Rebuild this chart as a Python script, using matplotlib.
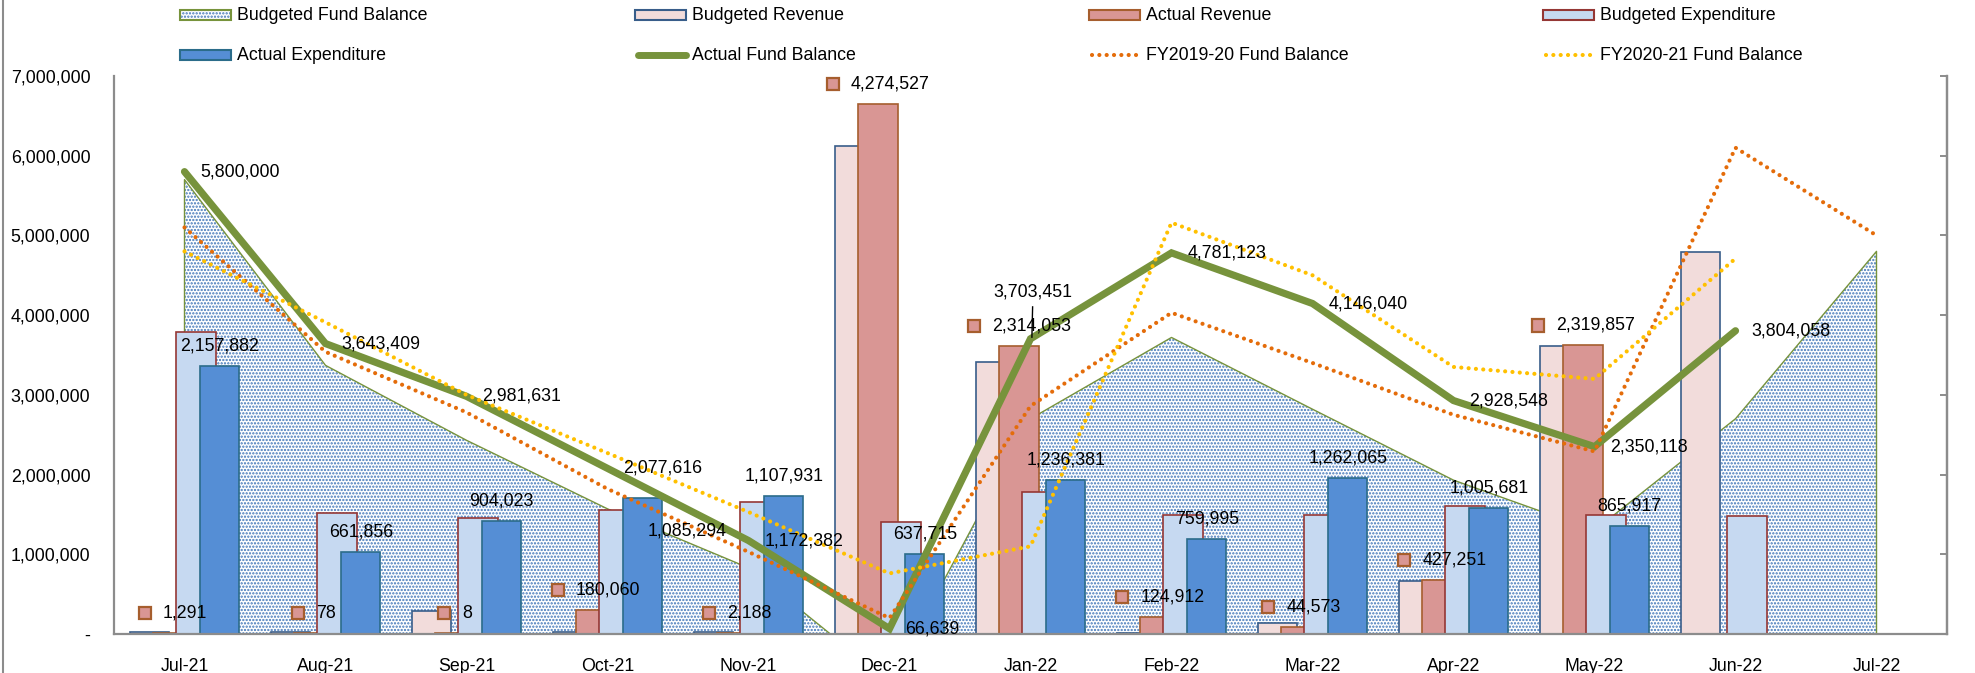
import numpy as np
import matplotlib.pyplot as plt
from matplotlib.patches import Rectangle
from matplotlib.lines import Line2D
from matplotlib.offsetbox import AnnotationBbox, HPacker, DrawingArea, TextArea

plt.rcParams['font.family'] = ['Liberation Sans', 'DejaVu Sans']
plt.rcParams['hatch.linewidth'] = 1.1

months = ['Jul-21', 'Aug-21', 'Sep-21', 'Oct-21', 'Nov-21', 'Dec-21', 'Jan-22',
          'Feb-22', 'Mar-22', 'Apr-22', 'May-22', 'Jun-22', 'Jul-22']
budgeted_fund_balance = [5.70e6, 3.37e6, 2.43e6, 1.57e6, 0.83e6, -0.60e6, 2.70e6,
                         3.72e6, 2.82e6, 1.93e6, 1.30e6, 2.70e6, 4.80e6]
budgeted_revenue = [0.02e6, 0.02e6, 0.29e6, 0.02e6, 0.02e6, 6.12e6, 3.41e6,
                    0.01e6, 0.14e6, 0.66e6, 3.61e6, 4.79e6, 0]
actual_revenue = [0.01e6, 0.01e6, 0.01e6, 0.30e6, 0.01e6, 6.65e6, 3.61e6,
                  0.21e6, 0.09e6, 0.68e6, 3.62e6, 0, 0]
budgeted_expenditure = [3.79e6, 1.52e6, 1.45e6, 1.55e6, 1.65e6, 1.40e6, 1.78e6,
                        1.49e6, 1.49e6, 1.60e6, 1.49e6, 1.48e6, 0]
actual_expenditure = [3.36e6, 1.03e6, 1.42e6, 1.70e6, 1.73e6, 1.00e6, 1.93e6,
                      1.19e6, 1.96e6, 1.58e6, 1.36e6, 0, 0]
actual_fund_balance = [5800000, 3643409, 2981631, 2077616, 1172382, 66639, 3703451,
                       4781123, 4146040, 2928548, 2350118, 3804058, np.nan]
fy2019_20 = [5.10e6, 3.54e6, 2.78e6, 1.82e6, 1.03e6, 0.20e6, 2.86e6,
             4.03e6, 3.40e6, 2.75e6, 2.29e6, 6.10e6, 5.00e6]
fy2020_21 = [4.80e6, 3.91e6, 3.00e6, 2.27e6, 1.53e6, 0.76e6, 1.10e6,
             5.16e6, 4.50e6, 3.35e6, 3.20e6, 4.71e6, np.nan]
revenue_labels = ['1,291', '78', '8', '180,060', '2,188', '4,274,527', '2,314,053',
                  '124,912', '44,573', '427,251', '2,319,857', '', '']
expenditure_labels = ['2,157,882', '661,856', '904,023', '1,085,294', '1,107,931', '637,715',
                      '1,236,381', '759,995', '1,262,065', '1,005,681', '865,917', '', '']
balance_labels = ['5,800,000', '3,643,409', '2,981,631', '2,077,616', '1,172,382', '66,639',
                  '3,703,451', '4,781,123', '4,146,040', '2,928,548', '2,350,118', '3,804,058', '']
y_ticks = [0, 1e6, 2e6, 3e6, 4e6, 5e6, 6e6, 7e6]
y_tick_labels = ['-', '1,000,000', '2,000,000', '3,000,000', '4,000,000',
                 '5,000,000', '6,000,000', '7,000,000']

W, H = 1975, 673
FS = 12.8
GREEN = '#77933C'
ORANGE = '#E46C0A'
YELLOW = '#FFC000'
DOTS = '#3f75b8'
DOT_STYLE = (0, (0.01, 1.75))
bar_styles = [
    ('Budgeted Revenue', budgeted_revenue, '#F2DCDB', '#385D8A'),
    ('Actual Revenue', actual_revenue, '#D99694', '#A65E2E'),
    ('Budgeted Expenditure', budgeted_expenditure, '#C6D9F1', '#953735'),
    ('Actual Expenditure', actual_expenditure, '#558ED5', '#2B6C8A'),
]

fig = plt.figure(figsize=(W / 100, H / 100), dpi=100)
ax = fig.add_axes([114 / W, 1 - 634 / H, (1947 - 114) / W, (634 - 76) / H])
x = np.arange(len(months))

# budgeted fund balance (dotted area)
bfb = np.array(budgeted_fund_balance)
ax.fill_between(x, 0, bfb, facecolor='white', edgecolor=DOTS, hatch='.....',
                linewidth=0, zorder=1)
ax.plot(np.r_[0, x, x[-1]], np.r_[0, bfb, 0], color=GREEN, lw=1.0, zorder=1.5)

# bars
width = 0.28
offsets = [-0.25, -0.083, 0.083, 0.25]
for (name, vals, fc, ec), off in zip(bar_styles, offsets):
    v = np.array(vals, dtype=float)
    m = v > 0
    ax.bar(x[m] + off, v[m], width=width, color=fc, edgecolor=ec, linewidth=1.2, zorder=2)

# lines
ax.plot(x, actual_fund_balance, color=GREEN, lw=5.2, solid_capstyle='round',
        solid_joinstyle='miter', zorder=3)
ax.plot(x, fy2019_20, color=ORANGE, lw=3.0, linestyle=DOT_STYLE,
        dash_capstyle='round', zorder=3.2)
ax.plot(x, fy2020_21, color=YELLOW, lw=3.0, linestyle=DOT_STYLE,
        dash_capstyle='round', zorder=3.3)

# actual revenue labels with legend key
for i, lbl in enumerate(revenue_labels):
    if not lbl:
        continue
    da = DrawingArea(10, 10, 0, 0)
    da.add_artist(Rectangle((0.6, 0.6), 8.8, 8.8, fc='#D99694', ec='#A65E2E', lw=1.6))
    ta = TextArea(lbl, textprops=dict(fontsize=FS, color='black'))
    pack = HPacker(children=[da, ta], align='center', pad=0, sep=8)
    ab = AnnotationBbox(pack, (x[i] + offsets[1], actual_revenue[i]), xybox=(0, 14.4),
                        xycoords='data', boxcoords='offset points', frameon=False,
                        box_alignment=(0.5, 0.5), pad=0, zorder=6)
    ax.add_artist(ab)

# actual expenditure labels
for i, lbl in enumerate(expenditure_labels):
    if not lbl:
        continue
    dx, dy = (44, -33) if months[i] == 'Oct-21' else (0, 20)
    ax.annotate(lbl, (x[i] + offsets[3], actual_expenditure[i]), xytext=(dx, dy),
                textcoords='offset pixels', ha='center', va='center', fontsize=FS, zorder=6)

# actual fund balance labels
for i, lbl in enumerate(balance_labels):
    if not lbl:
        continue
    if months[i] == 'Jan-22':
        ax.annotate(lbl, (x[i], actual_fund_balance[i]), xytext=(2, 47),
                    textcoords='offset pixels', ha='center', va='center', fontsize=FS, zorder=6)
        ax.plot([x[i] + 0.01, x[i] + 0.015],
                [actual_fund_balance[i] + 0.02e6, actual_fund_balance[i] + 0.4e6],
                color='black', lw=1, zorder=6)
    else:
        ax.annotate(lbl, (x[i], actual_fund_balance[i]), xytext=(16, 0),
                    textcoords='offset pixels', ha='left', va='center', fontsize=FS, zorder=6)

ax.set_xlim(-0.5, len(months) - 0.5)
ax.set_ylim(0, 7e6)
ax.set_xticks(x)
ax.set_xticklabels(months, fontsize=FS)
ax.set_yticks(y_ticks)
ax.set_yticklabels(y_tick_labels, fontsize=FS)
ax.tick_params(axis='both', length=0)
ax.tick_params(axis='x', pad=17)
ax.tick_params(axis='y', pad=17)
for s in ['left', 'bottom', 'right']:
    ax.spines[s].set_color('#8C8C8C')
    ax.spines[s].set_linewidth(1.6)
ax.spines['top'].set_visible(False)

ax2 = ax.twinx()
ax2.set_ylim(0, 7e6)
ax2.set_yticks(y_ticks)
ax2.set_yticklabels([])
ax2.tick_params(axis='y', direction='in', length=5, width=1.4, color='#8C8C8C')
for s in ['left', 'top', 'bottom']:
    ax2.spines[s].set_visible(False)
ax2.spines['right'].set_color('#8C8C8C')
ax2.spines['right'].set_linewidth(1.6)

# legend, Excel style: 4 columns, 2 rows
col_x = [180, 635, 1089, 1543]
row_y = [15, 55]
legend_items = [
    ('Budgeted Fund Balance', 'area'), ('Budgeted Revenue', 0), ('Actual Revenue', 1),
    ('Budgeted Expenditure', 2), ('Actual Expenditure', 3), ('Actual Fund Balance', 'green'),
    ('FY2019-20 Fund Balance', 'orange'), ('FY2020-21 Fund Balance', 'yellow'),
]
for k, (name, kind) in enumerate(legend_items):
    px = col_x[k % 4]
    py = row_y[k // 4]
    fx, fy = px / W, 1 - py / H
    if kind == 'area':
        fig.add_artist(Rectangle((fx, 1 - (py + 5) / H), 51 / W, 10 / H,
                                 transform=fig.transFigure, facecolor='white',
                                 edgecolor=DOTS, hatch='.....', lw=0))
        fig.add_artist(Rectangle((fx, 1 - (py + 5) / H), 51 / W, 10 / H,
                                 transform=fig.transFigure, facecolor='none',
                                 edgecolor=GREEN, lw=1.5))
    elif kind in (0, 1, 2, 3):
        _, _, fc, ec = bar_styles[kind]
        fig.add_artist(Rectangle((fx, 1 - (py + 5) / H), 51 / W, 10 / H,
                                 transform=fig.transFigure, facecolor=fc,
                                 edgecolor=ec, lw=1.5))
    elif kind == 'green':
        fig.add_artist(Line2D([fx + 3 / W, fx + 51 / W], [fy, fy], transform=fig.transFigure,
                              color=GREEN, lw=5, solid_capstyle='round'))
    else:
        c = ORANGE if kind == 'orange' else YELLOW
        fig.add_artist(Line2D([fx + 3 / W, fx + 51 / W], [fy, fy], transform=fig.transFigure,
                              color=c, lw=3.0, linestyle=DOT_STYLE,
                              dash_capstyle='round'))
    fig.text((px + 57) / W, fy, name, fontsize=FS, ha='left', va='center')

# chart border on the left
fig.add_artist(Line2D([3 / W, 3 / W], [0, 1], transform=fig.transFigure,
                      color='#8C8C8C', lw=1.5))

fig.savefig('out.png', dpi=100)
